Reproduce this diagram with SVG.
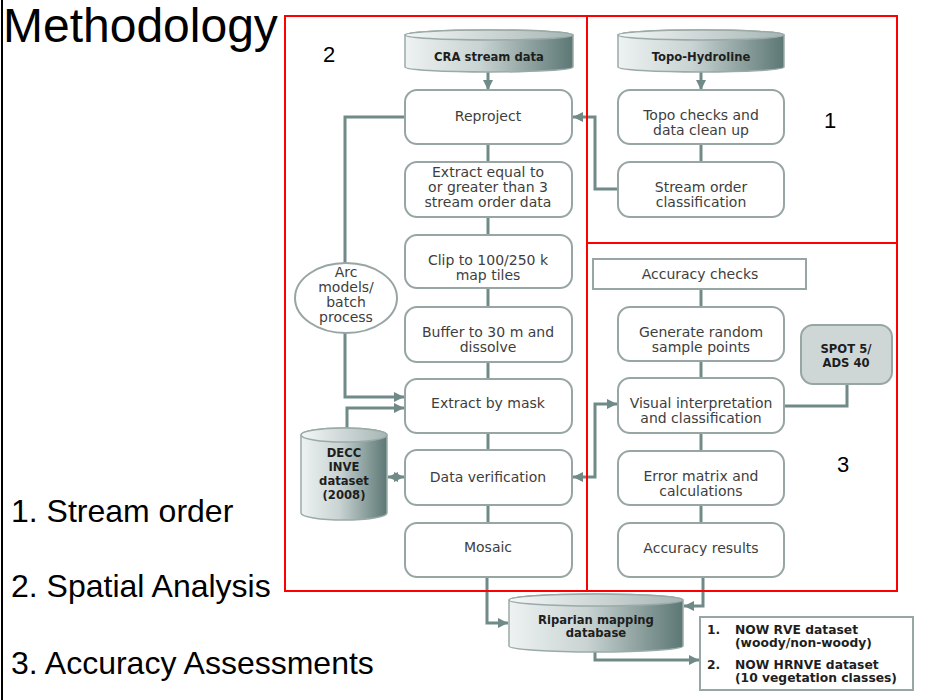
<svg xmlns="http://www.w3.org/2000/svg" width="949" height="700" viewBox="0 0 949 700">
<style>
.box{fill:#fff;stroke:#97a6a4;stroke-width:2}
.t{font-family:"DejaVu Sans",Verdana,sans-serif;font-size:14px;fill:#3e3e3e;text-anchor:middle}
.b{font-family:"DejaVu Sans",Verdana,sans-serif;font-weight:bold;font-size:11.6px;fill:#1e1e1e;text-anchor:middle}
.bl{font-family:"DejaVu Sans",Verdana,sans-serif;font-weight:bold;font-size:12.3px;fill:#1e1e1e}
.c{fill:none;stroke:#6f8a87;stroke-width:3}
.big{font-family:"Liberation Sans",Arial,sans-serif;fill:#000}
.red{fill:none;stroke:#ff0000;stroke-width:2}
.cyl{fill:url(#g);stroke:#9aaaa8;stroke-width:1.5}
.cyltop{fill:url(#gt);stroke:#9aaaa8;stroke-width:1.5}
</style>
<defs>
<linearGradient id="g" x1="0" y1="0" x2="1" y2="0">
<stop offset="0" stop-color="#eef2f2"/><stop offset="0.45" stop-color="#c8d3d2"/><stop offset="1" stop-color="#5c7774"/>
</linearGradient>
<linearGradient id="gt" x1="0" y1="0" x2="1" y2="0">
<stop offset="0" stop-color="#f4f7f7"/><stop offset="1" stop-color="#a6b6b4"/>
</linearGradient>
<marker id="ah" viewBox="0 0 10 10" refX="10" refY="5" markerWidth="10" markerHeight="10" markerUnits="userSpaceOnUse" orient="auto-start-reverse">
<path d="M0,0 L10,5 L0,10 z" fill="#6f8a87"/>
</marker>
</defs>
<rect width="949" height="700" fill="#fff"/>
<line x1="2" y1="0" x2="2" y2="700" stroke="#000" stroke-width="2"/>
<text class="big" x="3" y="42" font-size="48">Methodology</text>
<text class="big" x="11" y="522" font-size="32">1. Stream order</text>
<text class="big" x="11" y="597" font-size="32">2. Spatial Analysis</text>
<text class="big" x="11" y="674" font-size="32">3. Accuracy Assessments</text>

<g id="connectors">
<line class="c" x1="488" y1="72" x2="488" y2="90" marker-end="url(#ah)"/>
<line class="c" x1="701" y1="72" x2="701" y2="90" marker-end="url(#ah)"/>
<line class="c" x1="488" y1="144" x2="488" y2="162"/>
<line class="c" x1="488" y1="217" x2="488" y2="235"/>
<line class="c" x1="488" y1="288" x2="488" y2="307"/>
<line class="c" x1="488" y1="362" x2="488" y2="379"/>
<line class="c" x1="488" y1="433" x2="488" y2="450"/>
<line class="c" x1="488" y1="505" x2="488" y2="523"/>
<line class="c" x1="701" y1="144" x2="701" y2="162"/>
<line class="c" x1="701" y1="289" x2="701" y2="307"/>
<line class="c" x1="701" y1="361" x2="701" y2="378"/>
<line class="c" x1="701" y1="433" x2="701" y2="451"/>
<line class="c" x1="701" y1="505" x2="701" y2="523"/>
<path class="c" d="M618,189 H595 V117 H573" marker-end="url(#ah)"/>
<path class="c" d="M405,117 H345 V263"/>
<path class="c" d="M345,333 V397 H404" marker-end="url(#ah)"/>
<path class="c" d="M347,428 V408 H404" marker-end="url(#ah)"/>
<line class="c" x1="388" y1="477" x2="404" y2="477" marker-start="url(#ah)" marker-end="url(#ah)"/>
<path class="c" d="M573,477 H595 V404 H617" marker-start="url(#ah)" marker-end="url(#ah)"/>
<path class="c" d="M847,384 V406 H784"/>
<path class="c" d="M487,577 V623 H508" marker-end="url(#ah)"/>
<path class="c" d="M703,577 V606 H684" marker-end="url(#ah)"/>
<path class="c" d="M595,652 V660 H699" marker-end="url(#ah)"/>
</g>

<g id="cra">
<path class="cyl" d="M405,35 A84,5 0 0 1 573,35 V67 A84,5 0 0 1 405,67 Z"/>
<ellipse class="cyltop" cx="489" cy="35" rx="84" ry="5"/>
<text class="b" x="489" y="61">CRA stream data</text>
</g>
<g id="topo">
<path class="cyl" d="M618,35 A83,5 0 0 1 784,35 V67 A83,5 0 0 1 618,67 Z"/>
<ellipse class="cyltop" cx="701" cy="35" rx="83" ry="5"/>
<text class="b" x="701" y="61">Topo-Hydroline</text>
</g>
<g id="reproject"><rect class="box" x="405" y="90" width="167" height="54" rx="12"/><text class="t" x="488" y="121">Reproject</text></g>
<g id="extract3"><rect class="box" x="405" y="162" width="167" height="55" rx="12"/><text class="t" x="488" y="177">Extract equal to</text><text class="t" x="488" y="192">or greater than 3</text><text class="t" x="488" y="207">stream order data</text></g>
<g id="clip"><rect class="box" x="405" y="235" width="167" height="53" rx="12"/><text class="t" x="488" y="265">Clip to 100/250 k</text><text class="t" x="488" y="280">map tiles</text></g>
<g id="buffer"><rect class="box" x="405" y="307" width="167" height="55" rx="12"/><text class="t" x="488" y="337">Buffer to 30 m and</text><text class="t" x="488" y="352">dissolve</text></g>
<g id="mask"><rect class="box" x="405" y="379" width="167" height="54" rx="12"/><text class="t" x="488" y="408">Extract by mask</text></g>
<g id="verify"><rect class="box" x="405" y="450" width="167" height="55" rx="12"/><text class="t" x="488" y="482">Data verification</text></g>
<g id="mosaic"><rect class="box" x="405" y="523" width="167" height="54" rx="12"/><text class="t" x="488" y="552">Mosaic</text></g>

<g id="topochecks"><rect class="box" x="618" y="90" width="166" height="54" rx="12"/><text class="t" x="701" y="120">Topo checks and</text><text class="t" x="701" y="135">data clean up</text></g>
<g id="streamorder"><rect class="box" x="618" y="162" width="166" height="55" rx="12"/><text class="t" x="701" y="192">Stream order</text><text class="t" x="701" y="207">classification</text></g>

<g id="acchecks"><rect class="box" x="593" y="259" width="213" height="30"/><text class="t" x="700" y="279">Accuracy checks</text></g>
<g id="random"><rect class="box" x="618" y="307" width="166" height="54" rx="12"/><text class="t" x="701" y="337">Generate random</text><text class="t" x="701" y="352">sample points</text></g>
<g id="visual"><rect class="box" x="618" y="378" width="166" height="55" rx="12"/><text class="t" x="701" y="408">Visual interpretation</text><text class="t" x="701" y="423">and classification</text></g>
<g id="error"><rect class="box" x="618" y="451" width="166" height="54" rx="12"/><text class="t" x="701" y="481">Error matrix and</text><text class="t" x="701" y="496">calculations</text></g>
<g id="results"><rect class="box" x="618" y="523" width="166" height="54" rx="12"/><text class="t" x="701" y="553">Accuracy results</text></g>
<g id="spot"><rect x="801" y="325" width="91" height="59" rx="12" fill="#cfd7d6" stroke="#97a6a4" stroke-width="2"/><text class="b" font-size="12px" x="846" y="353">SPOT 5/</text><text class="b" font-size="12px" x="846" y="367">ADS 40</text></g>

<g id="arc"><ellipse cx="346" cy="298" rx="51" ry="35" fill="#fff" stroke="#97a6a4" stroke-width="2"/>
<text class="t" x="346" y="277">Arc</text><text class="t" x="346" y="292">models/</text><text class="t" x="346" y="307">batch</text><text class="t" x="346" y="322">process</text></g>

<g id="decc">
<path class="cyl" d="M301,435 A43,7 0 0 1 387,435 V513 A43,7 0 0 1 301,513 Z"/>
<ellipse class="cyltop" cx="344" cy="435" rx="43" ry="7"/>
<text class="b" font-size="12.3px" x="344" y="457">DECC</text>
<text class="b" font-size="12.3px" x="344" y="471">INVE</text>
<text class="b" font-size="12.3px" x="344" y="485">dataset</text>
<text class="b" font-size="12.3px" x="344" y="499">(2008)</text>
</g>

<g id="riparian">
<path class="cyl" d="M509,600 A87,6 0 0 1 683,600 V646 A87,6 0 0 1 509,646 Z"/>
<ellipse class="cyltop" cx="596" cy="600" rx="87" ry="6"/>
<text class="b" x="596" y="624">Riparian mapping</text>
<text class="b" x="596" y="637">database</text>
</g>

<g id="outputs">
<rect x="700" y="617" width="213" height="73" fill="#fff" stroke="#97a6a4" stroke-width="2"/>
<text class="bl" x="707" y="634">1.</text><text class="bl" x="735" y="634">NOW RVE dataset</text>
<text class="bl" x="735" y="647">(woody/non-woody)</text>
<text class="bl" x="707" y="669">2.</text><text class="bl" x="735" y="669">NOW HRNVE dataset</text>
<text class="bl" x="735" y="682">(10 vegetation classes)</text>
</g>

<g id="sections">
<rect class="red" x="285" y="16" width="302" height="575"/>
<rect class="red" x="587" y="16" width="310" height="227"/>
<rect class="red" x="587" y="243" width="310" height="348"/>
<text class="big" x="323" y="62" font-size="22">2</text>
<text class="big" x="824" y="128" font-size="22">1</text>
<text class="big" x="837" y="472" font-size="22">3</text>
</g>
</svg>
